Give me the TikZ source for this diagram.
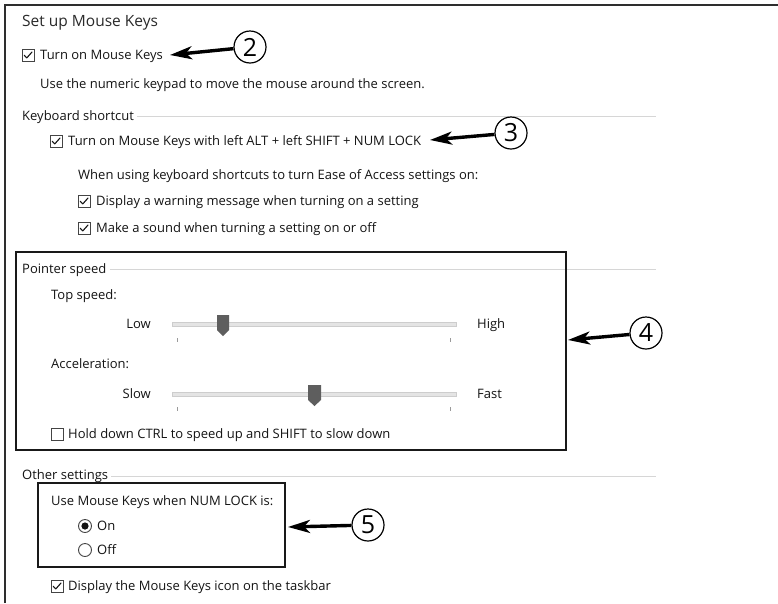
\documentclass[tikz,border=0pt]{standalone}
\usepackage{fontspec}
\setmainfont{Open Sans}
\usetikzlibrary{arrows.meta}
\definecolor{txt}{HTML}{141414}
\definecolor{ttl}{HTML}{2A2A2A}
\definecolor{rulegray}{HTML}{D6D6D6}
\definecolor{framegray}{HTML}{2E2E2E}
\definecolor{boxgray}{HTML}{444444}
\definecolor{trackfill}{HTML}{E4E4E4}
\definecolor{trackline}{HTML}{CDCDCD}
\definecolor{thumbgray}{HTML}{5E5E5E}
\definecolor{tickgray}{HTML}{9A9A9A}
\begin{document}
\begin{tikzpicture}[x=1pt,y=-1pt,
  lbl/.style={anchor=base west, inner sep=0pt, font=\fontsize{13}{15}\selectfont, text=txt},
  lble/.style={lbl, anchor=base east},
  ttlstyle/.style={anchor=base west, inner sep=0pt, font=\fontsize{15.5}{18}\selectfont, text=ttl},
  rulel/.style={draw=rulegray, line width=1pt},
  cbox/.style={draw=boxgray, line width=0.9pt, minimum size=12pt, inner sep=0pt, fill=white},
  radiob/.style={circle, draw=boxgray, line width=0.9pt, minimum size=13pt, inner sep=0pt},
  hbox/.style={draw=black!90, line width=2.5pt},
  numc/.style={circle, draw=black, line width=1.2pt, minimum size=32pt, inner sep=0pt, fill=white, font=\fontsize{25}{25}\selectfont},
  callarrow/.style={line width=3.4pt, -{Stealth[length=22pt,width=13pt,inset=6pt]}},
  tickmark/.pic={\draw[line width=1.1pt, txt, line cap=round, line join=round] (-3.8,0.2) -- (-1.2,2.9) -- (4,-3);}
]
\useasboundingbox (0,0) rectangle (778,603);
\fill[white] (0,0) rectangle (778,603);

% outer frame (open at right and bottom)
\draw[framegray, line width=2.2pt] (5,603) -- (5,5) -- (778,5);

% title
\node[ttlstyle] (title) at (22,26) {Set up Mouse Keys};

% Turn on Mouse Keys
\node[cbox] (cb1) at (28,55) {};
\pic at (cb1.center) {tickmark};
\node[lbl] (t1) at (40,59.5) {Turn on Mouse Keys};
\node[lbl] (t1b) at (40,88) {Use the numeric keypad to move the mouse around the screen.};

% Keyboard shortcut
\node[lbl] (ks) at (22,120) {Keyboard shortcut};
\draw[rulel] (ks.east |- 0,116) ++(3,0) -- (656,116);
\node[cbox] (cb2) at (56,141) {};
\pic at (cb2.center) {tickmark};
\node[lbl] (t2) at (68,145.5) {Turn on Mouse Keys with left ALT + left SHIFT + NUM LOCK};
\node[lbl] (t3) at (78,179.5) {When using keyboard shortcuts to turn Ease of Access settings on:};
\node[cbox] (cb3) at (84,201) {};
\pic at (cb3.center) {tickmark};
\node[lbl] (t4) at (96,205.5) {Display a warning message when turning on a setting};
\node[cbox] (cb4) at (84,228) {};
\pic at (cb4.center) {tickmark};
\node[lbl] (t5) at (96,232.5) {Make a sound when turning a setting on or off};

% Pointer speed
\node[lbl] (ps) at (22,273.5) {Pointer speed};
\draw[rulel] (ps.east |- 0,269) ++(3,0) -- (656,269);
\node[lbl] (ts) at (51,299.5) {Top speed:};
\node[lble] (low) at (151,328.5) {Low};
\node[lbl] (high) at (477,328.5) {High};
\draw[fill=trackfill, draw=trackline, line width=0.6pt] (172,322) rectangle (456,326);
\fill[thumbgray] (217,315) -- (229,315) -- (229,330) -- (223,336) -- (217,330) -- cycle;
\draw[tickgray, line width=0.8pt] (177,338) -- (177,342) (450,338) -- (450,342);
\node[lbl] (acc) at (51,368.5) {Acceleration:};
\node[lble] (slow) at (151,398.5) {Slow};
\node[lbl] (fast) at (477,398.5) {Fast};
\draw[fill=trackfill, draw=trackline, line width=0.6pt] (172,392) rectangle (456,396);
\fill[thumbgray] (308,385) -- (321,385) -- (321,400) -- (314.5,406) -- (308,400) -- cycle;
\draw[tickgray, line width=0.8pt] (177,407) -- (177,411) (450,407) -- (450,411);
\node[cbox] (cb5) at (57,434) {};
\node[lbl] (t6) at (68,438.5) {Hold down CTRL to speed up and SHIFT to slow down};
\draw[hbox] (16,252) rectangle (566,450);

% Other settings
\node[lbl] (os) at (22,479.5) {Other settings};
\draw[rulel] (os.east |- 0,476) ++(3,0) -- (656,476);
\node[lbl] (t7) at (51,505.5) {Use Mouse Keys when NUM LOCK is:};
\node[radiob] (ron) at (85,526) {};
\fill[txt] (ron.center) circle (3.6pt);
\node[lbl] (ton) at (97,530.5) {On};
\node[radiob] (roff) at (85,550) {};
\node[lbl] (toff) at (97,554.5) {Off};
\draw[hbox] (38,483) rectangle (285,567);
\node[cbox] (cb6) at (57,586) {};
\pic at (cb6.center) {tickmark};
\node[lbl] (t8) at (68,590.5) {Display the Mouse Keys icon on the taskbar};

% callouts
\node[numc] (c2) at (250,47) {2};
\node[numc] (c3) at (511,133) {3};
\node[numc] (c4) at (646,333) {4};
\node[numc] (c5) at (368,525) {5};
\coordinate (a2) at (170,55);
\coordinate (a3) at (430,140);
\coordinate (a4) at (568,340);
\coordinate (a5) at (288,527);
\draw[callarrow] (c2) -- (a2);
\draw[callarrow] (c3) -- (a3);
\draw[callarrow] (c4) -- (a4);
\draw[callarrow] (c5) -- (a5);
\end{tikzpicture}
\end{document}
